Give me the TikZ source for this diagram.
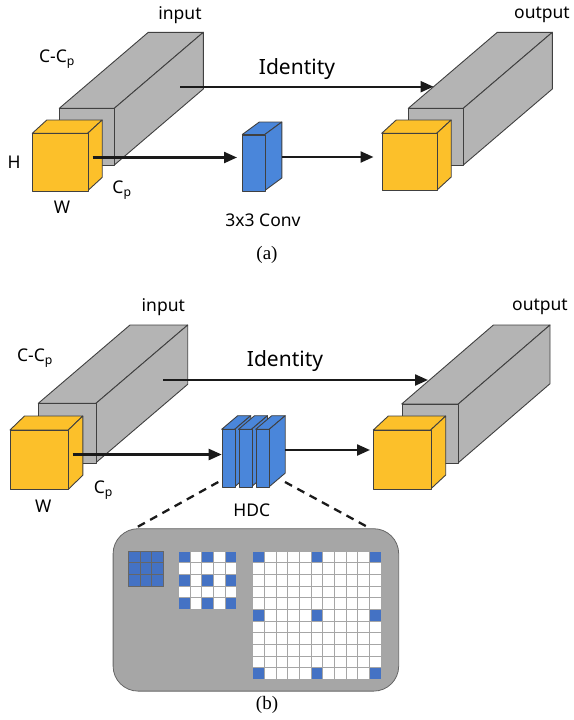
\documentclass[tikz,border=0pt]{standalone}
\usepackage{fontspec}
\setmainfont{Liberation Serif}
\newfontfamily\labfont{Noto Sans}
\usetikzlibrary{arrows.meta}
\definecolor{cyel}{HTML}{FCC02A}
\definecolor{cgray}{HTML}{B4B4B4}
\definecolor{cblue}{HTML}{4A86DA}
\definecolor{cpanel}{HTML}{A6A6A6}
\definecolor{cgrid}{HTML}{4472C4}
\definecolor{cedge}{HTML}{404040}
\definecolor{carrow}{HTML}{1A1A1A}
\tikzset{
  facestyle/.style={draw=cedge, line width=0.9pt, line join=round},
  lab/.style={font=\labfont\fontsize{17.5}{20}\selectfont, inner sep=0pt},
  idlab/.style={font=\labfont\fontsize{21}{24}\selectfont, inner sep=0pt},
  caplab/.style={font=\fontsize{19}{22}\selectfont, inner sep=0pt},
  conn/.style={draw=carrow, line width=2.3pt, -{Triangle[length=13pt,width=11pt]}},
  dashconn/.style={draw=carrow, line width=2.3pt, dash pattern=on 8pt off 6pt},
  gridline/.style={draw=gray!70, line width=0.6pt}
}
% #1 name, #2 x, #3 y, #4 w, #5 h, #6 dx, #7 up, #8 fill
\newcommand{\cuboidbox}[8]{%
  \filldraw[facestyle, fill=#8] (#2,#3) -- ++(#4,0) -- ++(#6,-#7) -- ++(-#4,0) -- cycle;
  \filldraw[facestyle, fill=#8] (#2+#4,#3) -- ++(#6,-#7) -- ++(0,#5) -- ++(-#6,#7) -- cycle;
  \node[facestyle, fill=#8, minimum width=#4pt, minimum height=#5pt, anchor=north west, inner sep=0pt] (#1) at (#2,#3) {};
}
\begin{document}
\begin{tikzpicture}[x=1pt,y=-1pt]
\useasboundingbox (0,0) rectangle (573,720);

% ---------------- (a) ----------------
\cuboidbox{ina}{59.3}{108.3}{55}{56.7}{89}{76}{cgray}
\cuboidbox{ya}{32.3}{133.3}{55.4}{57.4}{14.5}{13.3}{cyel}
\cuboidbox{conva}{242.3}{134.5}{22.5}{56}{17}{12.5}{cblue}
\cuboidbox{outa}{408.3}{108.3}{55}{56.7}{89}{76}{cgray}
\cuboidbox{yoa}{381.7}{133.3}{55}{57}{14.5}{13.3}{cyel}

\coordinate (ya-s) at (92.7,157.5);
\coordinate (conva-e) at (237,157.5);
\coordinate (conva-s) at (281.7,157);
\coordinate (yoa-e) at (373.5,157);
\coordinate (ina-s) at (180,86.7);
\coordinate (outa-e) at (433.5,86.7);
\draw[conn] (ya-s) -- (conva-e);
\draw[conn] (conva-s) -- (yoa-e);
\draw[conn] (ina-s) -- (outa-e);

\node[lab] (tin-a) at (180,15) {input};
\node[lab] (tout-a) at (542,15) {output};
\node[lab] (tcc-a) at (57,59) {C-C\textsubscript{p}};
\node[lab] (th-a) at (14,162) {H};
\node[lab] (tw-a) at (62,207) {W};
\node[lab] (tcp-a) at (122,190) {C\textsubscript{p}};
\node[idlab] (tid-a) at (297,69) {Identity};
\node[lab] (tconv-a) at (263,220) {3x3 Conv};
\node[caplab] (cap-a) at (267,255) {(a)};

% ---------------- (b) ----------------
\cuboidbox{inb}{38.3}{403.3}{57.7}{59.3}{91.7}{78.3}{cgray}
\cuboidbox{yb}{10}{430}{58.3}{59.3}{14.5}{14}{cyel}
\cuboidbox{hdc1}{221.7}{429.3}{13}{57.4}{16}{13.6}{cblue}
\cuboidbox{hdc2}{238.5}{429.3}{13}{57.4}{16}{13.6}{cblue}
\cuboidbox{hdc3}{255.7}{429.3}{13.5}{57.4}{16}{13.6}{cblue}
\cuboidbox{outb}{401.7}{404}{56.6}{58.7}{91.7}{79}{cgray}
\cuboidbox{yob}{373.3}{430}{57.4}{59}{15}{14}{cyel}

\coordinate (yb-s) at (72.7,454.5);
\coordinate (hdc-e) at (221.7,454.5);
\coordinate (hdc-s) at (285.2,450);
\coordinate (yob-e) at (370,450);
\coordinate (inb-s) at (163.3,380);
\coordinate (outb-e) at (428,380);
\draw[conn] (yb-s) -- (hdc-e);
\draw[conn] (hdc-s) -- (yob-e);
\draw[conn] (inb-s) -- (outb-e);

\node[lab] (tin-b) at (163.3,306.7) {input};
\node[lab] (tout-b) at (540,306.7) {output};
\node[lab] (tcc-b) at (35,358) {C-C\textsubscript{p}};
\node[lab] (tw-b) at (43.3,506.7) {W};
\node[lab] (tcp-b) at (103.3,490) {C\textsubscript{p}};
\node[idlab] (tid-b) at (285,361) {Identity};
\node[lab] (thdc) at (251.7,510) {HDC};

% panel
\node[draw=gray!80!black, line width=0.8pt, fill=cpanel, rounded corners=25pt,
      minimum width=285.6pt, minimum height=162.4pt, anchor=north west, inner sep=0pt]
      (panel) at (112.7,528.3) {};
\coordinate (hdc-bl) at (218.3,482);
\coordinate (hdc-br) at (285,482);
\coordinate (panel-l) at (135,528.3);
\coordinate (panel-r) at (370,528.3);
\draw[dashconn] (hdc-bl) -- (panel-l);
\draw[dashconn] (hdc-br) -- (panel-r);

\def\cs{11.67}
% 3x3 all blue
\foreach \i in {0,1,2}{\foreach \j in {0,1,2}{
  \filldraw[fill=cgrid, draw=cedge!80, line width=0.6pt] (128.3+\i*\cs,551+\j*\cs) rectangle ++(\cs,\cs);
}}
% 5x5 dilation 2
\foreach \i in {0,...,4}{\foreach \j in {0,...,4}{
  \pgfmathtruncatemacro{\isb}{(mod(\i,2)==0)&&(mod(\j,2)==0)}
  \ifnum\isb=1
    \filldraw[fill=cgrid, draw=gray!70, line width=0.6pt] (178.3+\i*\cs,551+\j*\cs) rectangle ++(\cs,\cs);
  \else
    \filldraw[fill=white, draw=gray!70, line width=0.6pt] (178.3+\i*\cs,551+\j*\cs) rectangle ++(\cs,\cs);
  \fi
}}
% 11x11 dilation 5
\foreach \i in {0,...,10}{\foreach \j in {0,...,10}{
  \pgfmathtruncatemacro{\isb}{(mod(\i,5)==0)&&(mod(\j,5)==0)}
  \ifnum\isb=1
    \filldraw[fill=cgrid, draw=gray!70, line width=0.6pt] (252.7+\i*\cs,551+\j*\cs) rectangle ++(\cs,\cs);
  \else
    \filldraw[fill=white, draw=gray!70, line width=0.6pt] (252.7+\i*\cs,551+\j*\cs) rectangle ++(\cs,\cs);
  \fi
}}

\node[caplab] (cap-b) at (267,705) {(b)};
\end{tikzpicture}
\end{document}
